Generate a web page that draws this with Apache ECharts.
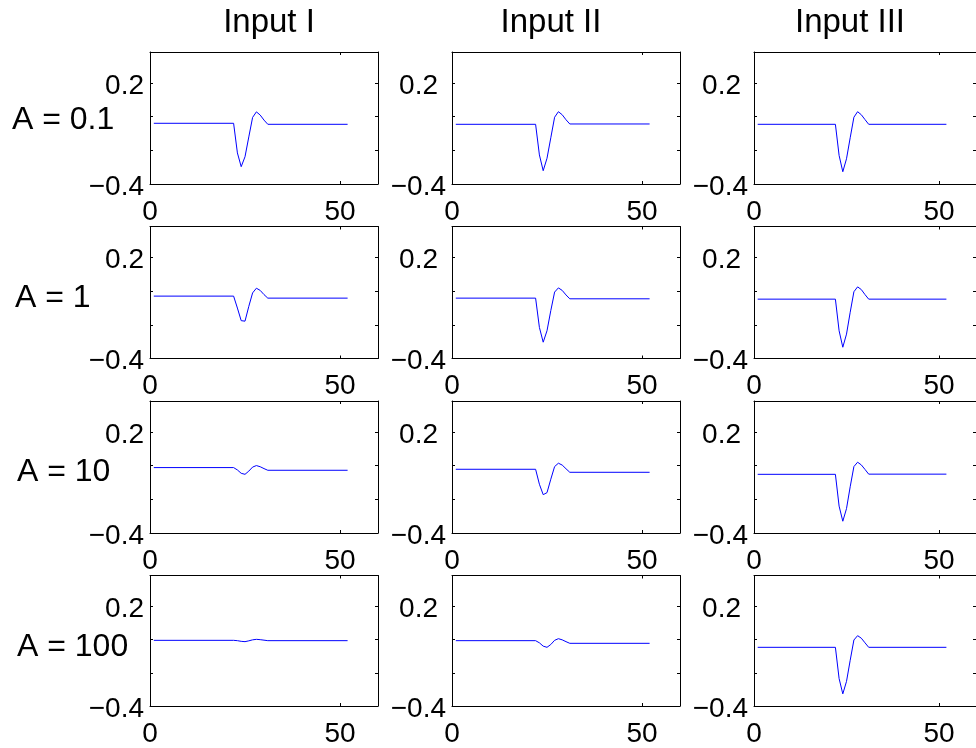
<!DOCTYPE html>
<html>
<head>
<meta charset="utf-8">
<script src="https://cdn.jsdelivr.net/npm/echarts@6/dist/echarts.min.js"></script>
<style>
  html, body { margin: 0; padding: 0; background: #fff; }
  #chart { width: 976px; height: 748px; }
</style>
</head>
<body>
<div id="chart"></div>
<script>
// Column headings and row headings
const columnTitles = ['Input I', 'Input II', 'Input III'];
const rowLabels = ['A = 0.1', 'A = 1', 'A = 10', 'A = 100'];

// Sample positions where each response changes slope (flat before 22 and after 31)
const sampleSteps = [1, 22, 23, 24, 25, 26, 27, 28, 29, 30, 31, 52];

// Axis ticks
const xTicks = [0, 50];
const yTicks = [-0.4, -0.2, 0, 0.2];
const yTickLabels = [-0.4, 0.2];

// Responses, A = 0.1
const a01InputI   = [-0.039, -0.039, -0.215, -0.297, -0.238, -0.120, -0.004, 0.029, 0.010, -0.020, -0.045, -0.045];
const a01InputII  = [-0.045, -0.045, -0.227, -0.321, -0.247, -0.125, -0.003, 0.030, 0.012, -0.018, -0.043, -0.043];
const a01InputIII = [-0.045, -0.045, -0.230, -0.327, -0.250, -0.125, -0.003, 0.030, 0.012, -0.017, -0.045, -0.045];
// Responses, A = 1
const a1InputI    = [-0.029, -0.029, -0.100, -0.175, -0.178, -0.090, -0.010, 0.018, 0.005, -0.020, -0.041, -0.041];
const a1InputII   = [-0.041, -0.041, -0.215, -0.303, -0.235, -0.115, -0.005, 0.020, 0.005, -0.022, -0.045, -0.045];
const a1InputIII  = [-0.047, -0.047, -0.235, -0.333, -0.255, -0.125, -0.003, 0.026, 0.010, -0.020, -0.047, -0.047];
// Responses, A = 10
const a10InputI   = [-0.011, -0.011, -0.025, -0.045, -0.051, -0.032, -0.008, 0.001, -0.006, -0.017, -0.027, -0.027];
const a10InputII  = [-0.021, -0.021, -0.110, -0.172, -0.160, -0.080, -0.005, 0.015, 0.004, -0.018, -0.039, -0.039];
const a10InputIII = [-0.051, -0.051, -0.240, -0.330, -0.255, -0.125, -0.005, 0.021, 0.005, -0.022, -0.050, -0.050];
// Responses, A = 100
const a100InputI   = [-0.005, -0.005, -0.007, -0.011, -0.013, -0.008, -0.002, 0.001, -0.001, -0.004, -0.007, -0.007];
const a100InputII  = [-0.007, -0.007, -0.020, -0.040, -0.047, -0.030, -0.005, 0.005, -0.002, -0.013, -0.023, -0.023];
const a100InputIII = [-0.047, -0.047, -0.235, -0.327, -0.252, -0.125, -0.003, 0.023, 0.008, -0.020, -0.047, -0.047];

const panelRows = [
  [a01InputI, a01InputII, a01InputIII],
  [a1InputI, a1InputII, a1InputIII],
  [a10InputI, a10InputII, a10InputIII],
  [a100InputI, a100InputII, a100InputIII]
];

// Layout of the 4 x 3 panel grid
const colLeft = [150, 452, 754];
const rowTop = [52, 226.5, 401, 575.5];
const boxW = 228, boxH = 132;
const titleX = [269, 551, 850];
const rowLabelX = [12, 15, 17, 17];
const rowLabelDy = [2, 6, 5, 6];
// extra gap to the left of the upper y label, per column
const upperLabelGap = [0, 8, 7];

const FONT = 'Liberation Sans, Arial, Helvetica, sans-serif';
const fmt = v => (v < 0 ? '\u2212' : '') + Math.abs(v);

const grids = [], xAxes = [], yAxes = [], series = [];
const axisLine = { show: true, onZero: false, lineStyle: { color: '#000', width: 1 } };
const tickStyle = { color: '#000', width: 1 };
const TICK_FONT = 28;

panelRows.forEach((row, r) => {
  row.forEach((values, c) => {
    const k = grids.length;
    grids.push({ left: colLeft[c], top: rowTop[r], width: boxW, height: boxH });
    // bottom and top x axes
    [['bottom', true], ['top', false]].forEach(([pos, labels]) => {
      xAxes.push({
        type: 'value', gridIndex: k, position: pos, min: 0, max: 60,
        axisLine: axisLine,
        axisTick: { show: true, inside: true, length: 3, customValues: xTicks, lineStyle: tickStyle },
        axisLabel: { show: labels, customValues: xTicks, fontSize: TICK_FONT, fontFamily: FONT, color: '#000', margin: 14 },
        splitLine: { show: false }
      });
    });
    // left and right y axes
    [['left', true], ['right', false]].forEach(([pos, labels]) => {
      yAxes.push({
        type: 'value', gridIndex: k, position: pos, min: -0.4, max: 0.385,
        axisLine: axisLine,
        axisTick: { show: true, inside: true, length: 3, customValues: yTicks, lineStyle: tickStyle },
        axisLabel: {
          show: labels, customValues: yTickLabels, margin: 6,
          formatter: v => (v > 0 ? '{up|' + fmt(v) + '}' : '{lo|' + fmt(v) + '}'),
          rich: {
            up: { fontSize: TICK_FONT, fontFamily: FONT, color: '#000', padding: [6, upperLabelGap[c], 0, 0] },
            lo: { fontSize: TICK_FONT, fontFamily: FONT, color: '#000', padding: [6, 0, 0, 0] }
          }
        },
        splitLine: { show: false }
      });
    });
    series.push({
      type: 'line', xAxisIndex: 2 * k, yAxisIndex: 2 * k,
      data: sampleSteps.map((x, i) => [x, values[i]]),
      showSymbol: false, silent: true,
      lineStyle: { color: '#0000ff', width: 1 }
    });
  });
});

const graphics = [];
columnTitles.forEach((t, c) => {
  graphics.push({ type: 'text', x: titleX[c], y: 23,
    style: { text: t, fill: '#000', fontSize: 33, fontFamily: FONT, align: 'center', verticalAlign: 'middle' } });
});
rowLabels.forEach((t, r) => {
  graphics.push({ type: 'text', x: rowLabelX[r], y: rowTop[r] + boxH / 2 + rowLabelDy[r],
    style: { text: t, fill: '#000', fontSize: 32, fontFamily: FONT, align: 'left', verticalAlign: 'middle' } });
});

const chart = echarts.init(document.getElementById('chart'), null, { renderer: 'canvas' });
chart.setOption({
  animation: false,
  backgroundColor: '#fff',
  grid: grids,
  xAxis: xAxes,
  yAxis: yAxes,
  series: series,
  graphic: graphics
});
</script>
</body>
</html>
